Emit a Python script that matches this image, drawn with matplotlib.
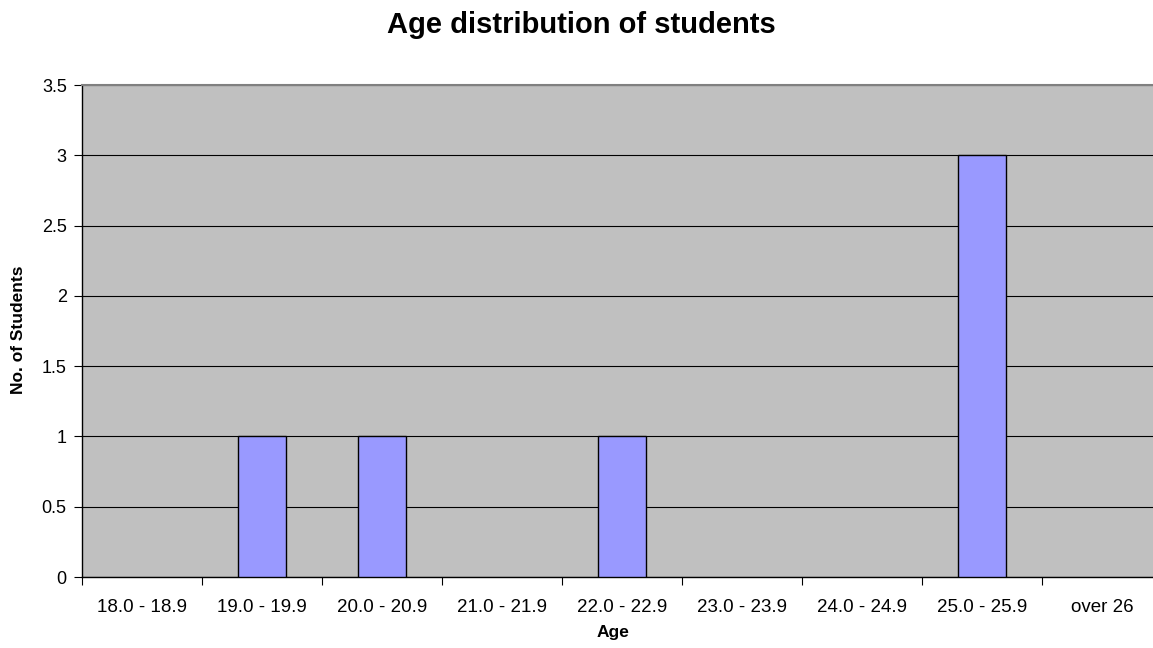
import matplotlib
matplotlib.use("Agg")
import matplotlib.pyplot as plt
import numpy as np

plt.rcParams['font.family'] = ['Liberation Sans', 'DejaVu Sans']

categories = ["18.0 - 18.9", "19.0 - 19.9", "20.0 - 20.9", "21.0 - 21.9",
              "22.0 - 22.9", "23.0 - 23.9", "24.0 - 24.9", "25.0 - 25.9", "over 26"]
counts = [0, 1, 1, 0, 1, 0, 0, 3, 0]
y_ticks = [0, 0.5, 1, 1.5, 2, 2.5, 3, 3.5]
y_tick_labels = ["0", "0.5", "1", "1.5", "2", "2.5", "3", "3.5"]

W, H = 1153, 648
fig = plt.figure(figsize=(W / 100, H / 100), dpi=100)
left, right, top, bottom = 82, 1162, 85, 577
ax = fig.add_axes([left / W, 1 - bottom / H, (right - left) / W, (bottom - top) / H])
ax.set_facecolor('#C0C0C0')

x = np.arange(len(categories))
nonzero = [i for i, v in enumerate(counts) if v > 0]
ax.bar(x[nonzero], [counts[i] for i in nonzero], width=0.4,
       color='#9999FF', edgecolor='black', linewidth=1.0, zorder=3)

ax.set_xlim(-0.5, len(categories) - 0.5)
ax.set_ylim(0, 3.5)
ax.set_yticks(y_ticks)
ax.set_yticklabels(y_tick_labels, fontsize=13)
ax.yaxis.grid(True, color='black', linewidth=0.8, zorder=1)
ax.set_axisbelow(True)

# category labels centred, ticks on category boundaries
ax.set_xticks(x)
ax.set_xticklabels(categories, fontsize=13.5)
ax.tick_params(axis='x', which='major', length=0, pad=16)
ax.set_xticks(np.arange(-0.5, len(categories) + 0.5, 1), minor=True)
ax.tick_params(axis='x', which='minor', length=6, width=0.8, color='black', direction='out')
ax.tick_params(axis='y', length=6, width=0.8, color='black', direction='out', pad=5)

ax.spines['right'].set_visible(False)
ax.spines['top'].set_color('#808080')
ax.spines['top'].set_linewidth(1.5)
ax.spines['left'].set_color('black')
ax.spines['bottom'].set_color('black')
ax.spines['left'].set_linewidth(1.0)
ax.spines['bottom'].set_linewidth(1.0)

fig.text(581 / W, 1 - 25 / H, "Age distribution of students", ha='center', va='center',
         fontsize=21, fontweight='bold')
fig.text(613 / W, 1 - 632 / H, "Age", ha='center', va='center',
         fontsize=12.5, fontweight='bold')
fig.text(19 / W, 1 - 330 / H, "No. of Students", ha='center', va='center',
         rotation=90, fontsize=12.5, fontweight='bold')

fig.savefig("out.png", dpi=100, facecolor='white')
